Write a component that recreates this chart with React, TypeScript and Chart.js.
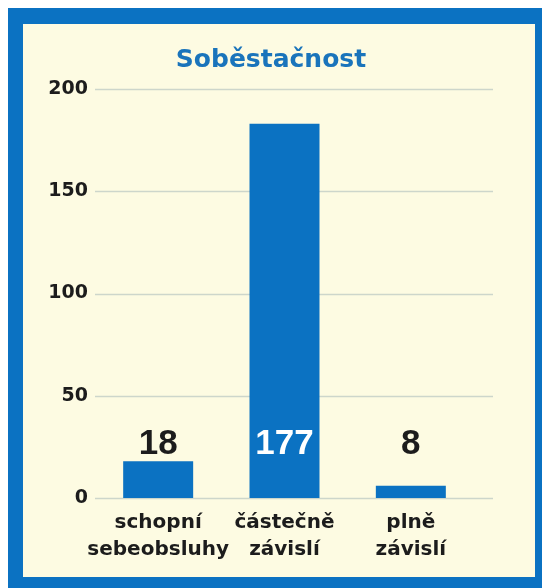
import React, { useEffect, useRef } from "react";
import { Chart, registerables } from "chart.js";

Chart.register(...registerables);

const titleText = "Soběstačnost";
const categories: string[][] = [["schopní", "sebeobsluhy"], ["částečně", "závislí"], ["plně", "závislí"]];
const barValues = [18, 183, 6];
const valueLabels = ["18", "177", "8"];
const yTicks = { min: 0, max: 200, step: 50 };

const BLUE = "#0b72c2";
const BG = "#fdfbe2";
const TEXT = "#1c1c1c";

const gridPlugin = {
  id: "extGrid",
  beforeDatasetsDraw(chart: any) {
    const { ctx, chartArea, scales } = chart;
    const y = scales.y;
    ctx.save();
    ctx.strokeStyle = "#cdd6cb";
    ctx.lineWidth = 1.5;
    y.ticks.forEach((t: any) => {
      const py = Math.round(y.getPixelForValue(t.value)) + 0.5;
      ctx.beginPath();
      ctx.moveTo(chartArea.left, py);
      ctx.lineTo(chartArea.right + 19, py);
      ctx.stroke();
    });
    ctx.restore();
  },
};

const titlePlugin = {
  id: "boxTitle",
  afterDraw(chart: any) {
    const { ctx, width } = chart;
    ctx.save();
    ctx.font = "bold 25px 'DejaVu Sans'";
    ctx.fillStyle = "#1a74bb";
    ctx.textAlign = "center";
    ctx.textBaseline = "middle";
    ctx.fillText(titleText, width / 2 - 8, 36);
    ctx.restore();
  },
};

const valuePlugin = {
  id: "valueLabels",
  afterDatasetsDraw(chart: any) {
    const { ctx, scales } = chart;
    const meta = chart.getDatasetMeta(0);
    const ly = scales.y.getPixelForValue(26);
    ctx.save();
    ctx.font = "bold 35px 'Liberation Sans'";
    ctx.textAlign = "center";
    ctx.textBaseline = "middle";
    meta.data.forEach((bar: any, i: number) => {
      const inside = bar.y < ly - 12;
      ctx.fillStyle = inside ? "#ffffff" : TEXT;
      ctx.fillText(valueLabels[i], bar.x, ly);
    });
    ctx.restore();
  },
};

function BarChart() {
  const ref = useRef<HTMLCanvasElement | null>(null);
  useEffect(() => {
    if (!ref.current) return;
    Chart.defaults.font.family = "'DejaVu Sans'";
    const chart = new Chart(ref.current, {
      type: "bar",
      data: {
        labels: categories,
        datasets: [
          {
            data: barValues,
            backgroundColor: BLUE,
            borderWidth: 0,
            barPercentage: 0.554,
            categoryPercentage: 1,
          },
        ],
      },
      options: {
        animation: false,
        responsive: false,
        layout: { padding: { left: 0, right: 61, top: 65, bottom: 14 } },
        plugins: {
          legend: { display: false },
          tooltip: { enabled: false },
          title: { display: false },
        },
        scales: {
          x: {
            grid: { display: false, drawTicks: false },
            border: { display: false },
            ticks: {
              color: TEXT,
              font: { size: 20, weight: "bold", lineHeight: 1.35 },
              padding: 11,
              maxRotation: 0,
              autoSkip: false,
            },
            afterFit(scale: any) {
              scale.height = 65;
            },
          },
          y: {
            min: yTicks.min,
            max: yTicks.max,
            grid: { display: false, drawTicks: false },
            border: { display: false },
            ticks: {
              stepSize: yTicks.step,
              color: TEXT,
              font: { size: 19, weight: "bold" },
              padding: 7,
            },
            afterFit(scale: any) {
              scale.width = 72;
            },
          },
        },
      },
      plugins: [gridPlugin, valuePlugin, titlePlugin],
    });
    return () => chart.destroy();
  }, []);
  return <canvas ref={ref} width={512} height={553} style={{ display: "block" }} />;
}

export default function App() {
  useEffect(() => {
    document.documentElement.style.overflow = "hidden";
    document.body.style.margin = "0";
    document.body.style.overflow = "hidden";
  }, []);
  return (
    <div
      style={{
        marginLeft: 8,
        marginTop: 8,
        width: 512,
        height: 553,
        background: BG,
        borderStyle: "solid",
        borderColor: BLUE,
        borderLeftWidth: 15,
        borderTopWidth: 16,
        borderRightWidth: 7,
        borderBottomWidth: 11,
      }}
    >
      <BarChart />
    </div>
  );
}
